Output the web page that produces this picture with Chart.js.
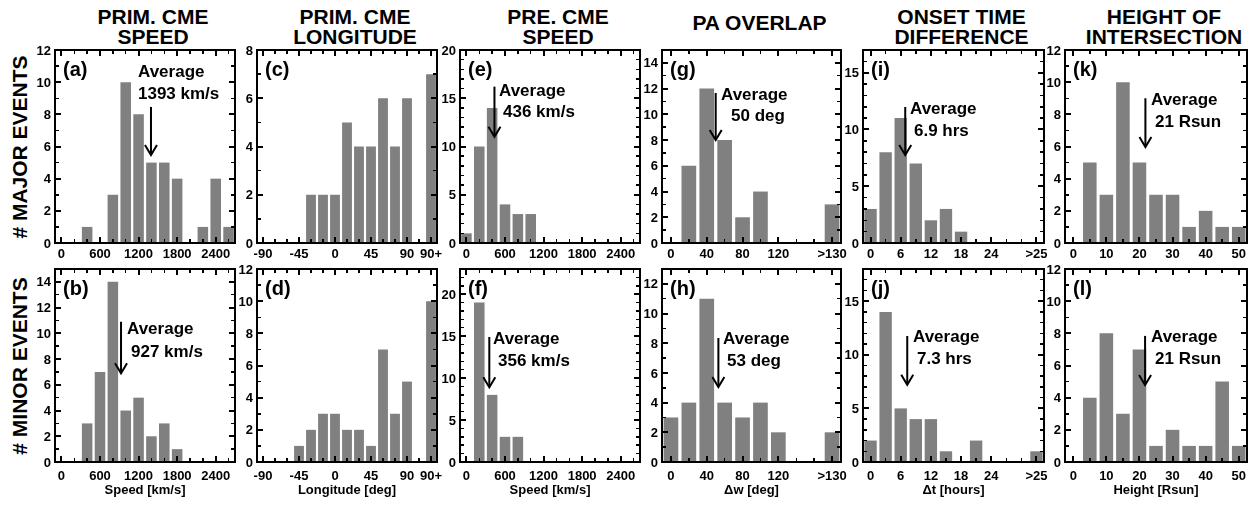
<!DOCTYPE html>
<html lang="en">
<head>
<meta charset="UTF-8">
<title>CME interaction histograms</title>
<script src="https://cdn.jsdelivr.net/npm/chart.js"></script>
<style>
    body { margin: 0; background: #fff; }
    #page { position: relative; width: 1260px; height: 506px; overflow: hidden;
            font-family: "Liberation Sans", Arial, sans-serif; font-weight: bold; color: #000; }
    .titulo { position: absolute; width: 220px; text-align: center; font-size: 21px; line-height: 20px; }
    .rotulo { position: absolute; left: -100px; width: 240px; line-height: 24px; text-align: center;
              font-size: 21px; transform: rotate(-90deg); }
    canvas { position: absolute; z-index: 1; }
    .caixa { position: absolute; box-sizing: border-box; border: 2px solid #000; z-index: 2; }
    .marca { position: absolute; background: #000; z-index: 2; }
</style>
</head>
<body>
<div id="page"></div>

<script>
    // bin centers
    const speedBins = [0, 200, 400, 600, 800, 1000, 1200, 1400, 1600, 1800, 2000, 2200, 2400, 2600];
    const longitudeBins = [-90, -75, -60, -45, -30, -15, 0, 15, 30, 45, 60, 75, 90, 105, 120];
    const overlapBins = [0, 20, 40, 60, 80, 100, 120, 140, 160, 180];
    const onsetBins = [0, 3, 6, 9, 12, 15, 18, 21, 24, 27, 30, 33];
    const heightBins = [0, 5, 10, 15, 20, 25, 30, 35, 40, 45, 50];

    // counts per bin
    const primSpeedMajor = [0, 0, 1, 0, 3, 10, 8, 5, 5, 4, 0, 1, 4, 1];
    const primSpeedMinor = [0, 0, 3, 7, 14, 4, 5, 2, 3, 1, 0, 0, 0, 0];
    const primLonMajor = [0, 0, 0, 0, 2, 2, 2, 5, 4, 4, 6, 4, 6, 0, 7];
    const primLonMinor = [0, 0, 0, 1, 2, 3, 3, 2, 2, 1, 7, 3, 5, 0, 10];
    const preSpeedMajor = [1, 10, 14, 4, 3, 3, 0, 0, 0, 0, 0, 0, 0, 0];
    const preSpeedMinor = [0, 19, 8, 3, 3, 0, 0, 0, 0, 0, 0, 0, 0, 0];
    const overlapMajor = [0, 6, 12, 8, 2, 4, 0, 0, 0, 3];
    const overlapMinor = [3, 4, 11, 4, 3, 4, 2, 0, 0, 2];
    const onsetMajor = [3, 8, 11, 7, 2, 3, 1, 0, 0, 0, 0, 0];
    const onsetMinor = [2, 14, 5, 4, 4, 1, 0, 2, 0, 0, 0, 1];
    const heightMajor = [0, 5, 3, 10, 5, 3, 3, 1, 2, 1, 1];
    const heightMinor = [0, 4, 8, 3, 7, 1, 2, 1, 1, 5, 1];

    // x tick labels
    const speedTicks = [0, 600, 1200, 1800, 2400];
    const speedTickLabels = ['0', '600', '1200', '1800', '2400'];
    const longitudeTicks = [-90, -45, 0, 45, 90, 120];
    const longitudeTickLabels = ['-90', '-45', '0', '45', '90', '90+'];
    const overlapTicks = [0, 40, 80, 120, 180];
    const overlapTickLabels = ['0', '40', '80', '120', '>130'];
    const onsetTicks = [0, 6, 12, 18, 24, 33];
    const onsetTickLabels = ['0', '6', '12', '18', '24', '>25'];
    const heightTicks = [0, 10, 20, 30, 40, 50];
    const heightTickLabels = ['0', '10', '20', '30', '40', '50'];

    // y tick labels
    const countTicks8 = [0, 2, 4, 6, 8];
    const countTicks12 = [0, 2, 4, 6, 8, 10, 12];
    const countTicks14 = [0, 2, 4, 6, 8, 10, 12, 14];
    const countTicks15 = [0, 5, 10, 15];
    const countTicks20 = [0, 5, 10, 15, 20];

    // averages (arrow position and printed text)
    const averageAt = [1393, 927, 436, 356, 50, 53, 6.9, 7.3, 21.8, 21.7];
    const averageText = ['1393 km/s', '927 km/s', '436 km/s', '356 km/s', '50 deg', '53 deg', '6.9 hrs', '7.3 hrs', '21 Rsun', '21 Rsun'];

    // layout
    const colunas = [
        { left: 55, width: 180 }, { left: 257, width: 180 }, { left: 460, width: 180 },
        { left: 662, width: 179 }, { left: 863, width: 181 }, { left: 1065, width: 182 }
    ];
    const linhas = [
        { top: 50, bottom: 243, canvasTop: 30, canvasBottom: 272, labelGap: 11 },
        { top: 269, bottom: 462, canvasTop: 250, canvasBottom: 506, labelGap: 14 }
    ];
    const titulos = [
        ['PRIM. CME', 'SPEED'], ['PRIM. CME', 'LONGITUDE'], ['PRE. CME', 'SPEED'],
        ['PA OVERLAP'], ['ONSET TIME', 'DIFFERENCE'], ['HEIGHT OF', 'INTERSECTION']
    ];
    const eixos = ['Speed [km/s]', 'Longitude [deg]', 'Speed [km/s]', '\u0394w [deg]', '\u0394t [hours]', 'Height [Rsun]'];

    // arrow top/tip in count units, text offsets in px from panel corner
    const setas = {
        a: { top: 8.46, tip: 5.47, linha1: [83, 22], linha2: [83, 44] },
        b: { top: 10.9, tip: 6.9, linha1: [72, 60], linha2: [76, 83] },
        e: { top: 16.2, tip: 11.0, linha1: [39, 41], linha2: [43, 62] },
        f: { top: 14.9, tip: 8.9, linha1: [33, 70], linha2: [38, 92] },
        g: { top: 11.66, tip: 8.0, linha1: [59, 45], linha2: [69, 66] },
        h: { top: 8.35, tip: 5.05, linha1: [61, 70], linha2: [65, 92] },
        i: { top: 11.98, tip: 7.75, linha1: [47, 59], linha2: [51, 81] },
        j: { top: 11.75, tip: 7.2, linha1: [50, 68], linha2: [54, 90] },
        k: { top: 9.0, tip: 5.97, linha1: [86, 50], linha2: [90, 72] },
        l: { top: 7.84, tip: 4.79, linha1: [86, 68], linha2: [90, 90] }
    };

    const paineis = [
        { id: 'a', col: 0, row: 0, bins: speedBins, counts: primSpeedMajor, ticks: speedTicks, labels: speedTickLabels, yMax: 12, yTicks: countTicks12, media: 0 },
        { id: 'b', col: 0, row: 1, bins: speedBins, counts: primSpeedMinor, ticks: speedTicks, labels: speedTickLabels, yMax: 15, yTicks: countTicks14, media: 1 },
        { id: 'c', col: 1, row: 0, bins: longitudeBins, counts: primLonMajor, ticks: longitudeTicks, labels: longitudeTickLabels, yMax: 8, yTicks: countTicks8, media: null },
        { id: 'd', col: 1, row: 1, bins: longitudeBins, counts: primLonMinor, ticks: longitudeTicks, labels: longitudeTickLabels, yMax: 12, yTicks: countTicks12, media: null },
        { id: 'e', col: 2, row: 0, bins: speedBins, counts: preSpeedMajor, ticks: speedTicks, labels: speedTickLabels, yMax: 20, yTicks: countTicks20, media: 2 },
        { id: 'f', col: 2, row: 1, bins: speedBins, counts: preSpeedMinor, ticks: speedTicks, labels: speedTickLabels, yMax: 23, yTicks: countTicks20, media: 3 },
        { id: 'g', col: 3, row: 0, bins: overlapBins, counts: overlapMajor, ticks: overlapTicks, labels: overlapTickLabels, yMax: 15, yTicks: countTicks14, media: 4 },
        { id: 'h', col: 3, row: 1, bins: overlapBins, counts: overlapMinor, ticks: overlapTicks, labels: overlapTickLabels, yMax: 13, yTicks: countTicks12, media: 5 },
        { id: 'i', col: 4, row: 0, bins: onsetBins, counts: onsetMajor, ticks: onsetTicks, labels: onsetTickLabels, yMax: 17, yTicks: countTicks15, media: 6 },
        { id: 'j', col: 4, row: 1, bins: onsetBins, counts: onsetMinor, ticks: onsetTicks, labels: onsetTickLabels, yMax: 18, yTicks: countTicks15, media: 7 },
        { id: 'k', col: 5, row: 0, bins: heightBins, counts: heightMajor, ticks: heightTicks, labels: heightTickLabels, yMax: 12, yTicks: countTicks12, media: 8 },
        { id: 'l', col: 5, row: 1, bins: heightBins, counts: heightMinor, ticks: heightTicks, labels: heightTickLabels, yMax: 12, yTicks: countTicks12, media: 9 }
    ];

    const FONTE = '"Liberation Sans", Arial, sans-serif';
    const page = document.getElementById('page');

    // titles and row labels
    titulos.forEach((linhasTitulo, c) => {
        const div = document.createElement('div');
        div.className = 'titulo';
        div.style.left = (colunas[c].left + colunas[c].width / 2 + 8 - 110) + 'px';
        div.style.top = (linhasTitulo.length === 1 ? 13 : 7) + 'px';
        div.innerHTML = linhasTitulo.join('<br>');
        page.appendChild(div);
    });
    [['# MAJOR EVENTS', 0], ['# MINOR EVENTS', 1]].forEach(([texto, r]) => {
        const div = document.createElement('div');
        div.className = 'rotulo';
        div.style.top = ((linhas[r].top + linhas[r].bottom) / 2 - 12) + 'px';
        div.textContent = texto;
        page.appendChild(div);
    });

    // small black rectangle on the page (frame pieces and ticks)
    function bloco(cls, left, top, width, height) {
        const div = document.createElement('div');
        div.className = cls;
        div.style.left = left + 'px';
        div.style.top = top + 'px';
        div.style.width = width + 'px';
        div.style.height = height + 'px';
        page.appendChild(div);
    }

    // frame and inward ticks as page elements, placed with the chart's own scales
    function molduraPagina(chart, p, offX, offY) {
        const x = chart.scales.x;
        const y = chart.scales.y;
        const a = chart.chartArea;
        const L = offX + a.left, R = offX + a.right, T = offY + a.top, B = offY + a.bottom;

        bloco('caixa', L - 1, T - 1, R - L + 2, B - T + 2);

        p.bins.forEach(v => {
            const px = offX + x.getPixelForValue(v);
            bloco('marca', px - 0.75, B - 4, 1.5, 4);
            bloco('marca', px - 0.75, T, 1.5, 4);
        });
        p.ticks.forEach(v => {
            const px = offX + x.getPixelForValue(v);
            bloco('marca', px - 1, B - 6, 2, 6);
            bloco('marca', px - 1, T, 2, 6);
        });
        for (let v = 1; v < p.yMax; v++) {
            const py = offY + y.getPixelForValue(v);
            bloco('marca', L, py - 0.75, 4, 1.5);
            bloco('marca', R - 4, py - 0.75, 4, 1.5);
        }
        p.yTicks.forEach(v => {
            const py = offY + y.getPixelForValue(v);
            bloco('marca', L, py - 1, 6, 2);
            bloco('marca', R - 6, py - 1, 6, 2);
        });
    }

    // labels and average arrow on the chart canvas
    function rotulos(p) {
        return {
            id: 'rotulos' + p.id,
            afterDatasetsDraw(chart) {
                const ctx = chart.ctx;
                const x = chart.scales.x;
                const y = chart.scales.y;
                const a = chart.chartArea;
                const lin = linhas[p.row];
                ctx.save();
                ctx.fillStyle = '#000';
                ctx.strokeStyle = '#000';

                // tick labels
                ctx.font = 'bold 13px ' + FONTE;
                ctx.textBaseline = 'middle';
                ctx.textAlign = 'center';
                p.ticks.forEach((v, i) => {
                    ctx.fillText(p.labels[i], x.getPixelForValue(v), a.bottom + lin.labelGap);
                });
                ctx.textAlign = 'right';
                p.yTicks.forEach(v => {
                    ctx.fillText(String(v), a.left - 4, y.getPixelForValue(v) + 1);
                });

                // axis title on the lower row
                if (p.row === 1) {
                    ctx.textAlign = 'center';
                    ctx.fillText(eixos[p.col], (a.left + a.right) / 2, a.bottom + 28);
                }

                // panel letter
                ctx.textAlign = 'left';
                ctx.font = 'bold 20px ' + FONTE;
                ctx.fillText('(' + p.id + ')', a.left + 8, a.top + 20);

                // average arrow
                if (p.media !== null) {
                    const s = setas[p.id];
                    const px = x.getPixelForValue(averageAt[p.media]);
                    const yTop = y.getPixelForValue(s.top);
                    const yTip = y.getPixelForValue(s.tip);
                    ctx.fillRect(px - 1, yTop, 2, yTip - yTop - 1);
                    ctx.lineWidth = 2;
                    ctx.beginPath();
                    ctx.moveTo(px - 6, yTip - 10);
                    ctx.lineTo(px, yTip);
                    ctx.lineTo(px + 6, yTip - 10);
                    ctx.stroke();

                    ctx.font = 'bold 17px ' + FONTE;
                    ctx.fillText('Average', a.left + s.linha1[0], a.top + s.linha1[1]);
                    ctx.fillText(averageText[p.media], a.left + s.linha2[0], a.top + s.linha2[1]);
                }
                ctx.restore();
            }
        };
    }

    function montaPainel(p) {
        const col = colunas[p.col];
        const lin = linhas[p.row];
        const padL = 40, padR = 16;
        const step = p.bins[1] - p.bins[0];
        const offX = col.left - padL;
        const offY = lin.canvasTop;

        const canvas = document.createElement('canvas');
        canvas.width = padL + col.width + padR;
        canvas.height = lin.canvasBottom - lin.canvasTop;
        canvas.style.left = offX + 'px';
        canvas.style.top = offY + 'px';
        page.appendChild(canvas);

        const grafico = new Chart(canvas, {
            type: 'bar',
            data: {
                datasets: [{
                    data: p.bins.map((b, i) => ({ x: b, y: p.counts[i] })),
                    backgroundColor: '#808080',
                    borderWidth: 0,
                    barPercentage: 1,
                    categoryPercentage: 0.82
                }]
            },
            options: {
                responsive: false,
                animation: false,
                layout: {
                    padding: { left: padL, right: padR, top: lin.top - lin.canvasTop, bottom: lin.canvasBottom - lin.bottom }
                },
                plugins: { legend: { display: false }, tooltip: { enabled: false } },
                scales: {
                    x: {
                        type: 'linear',
                        display: false,
                        offset: false,
                        min: p.bins[0] - step / 2,
                        max: p.bins[p.bins.length - 1] + step / 2,
                        afterBuildTicks: s => { s.ticks = p.bins.map(v => ({ value: v })); }
                    },
                    y: { display: false, min: 0, max: p.yMax }
                }
            },
            plugins: [rotulos(p)]
        });

        molduraPagina(grafico, p, offX, offY);
    }

    paineis.forEach(montaPainel);
</script>
</body>
</html>
